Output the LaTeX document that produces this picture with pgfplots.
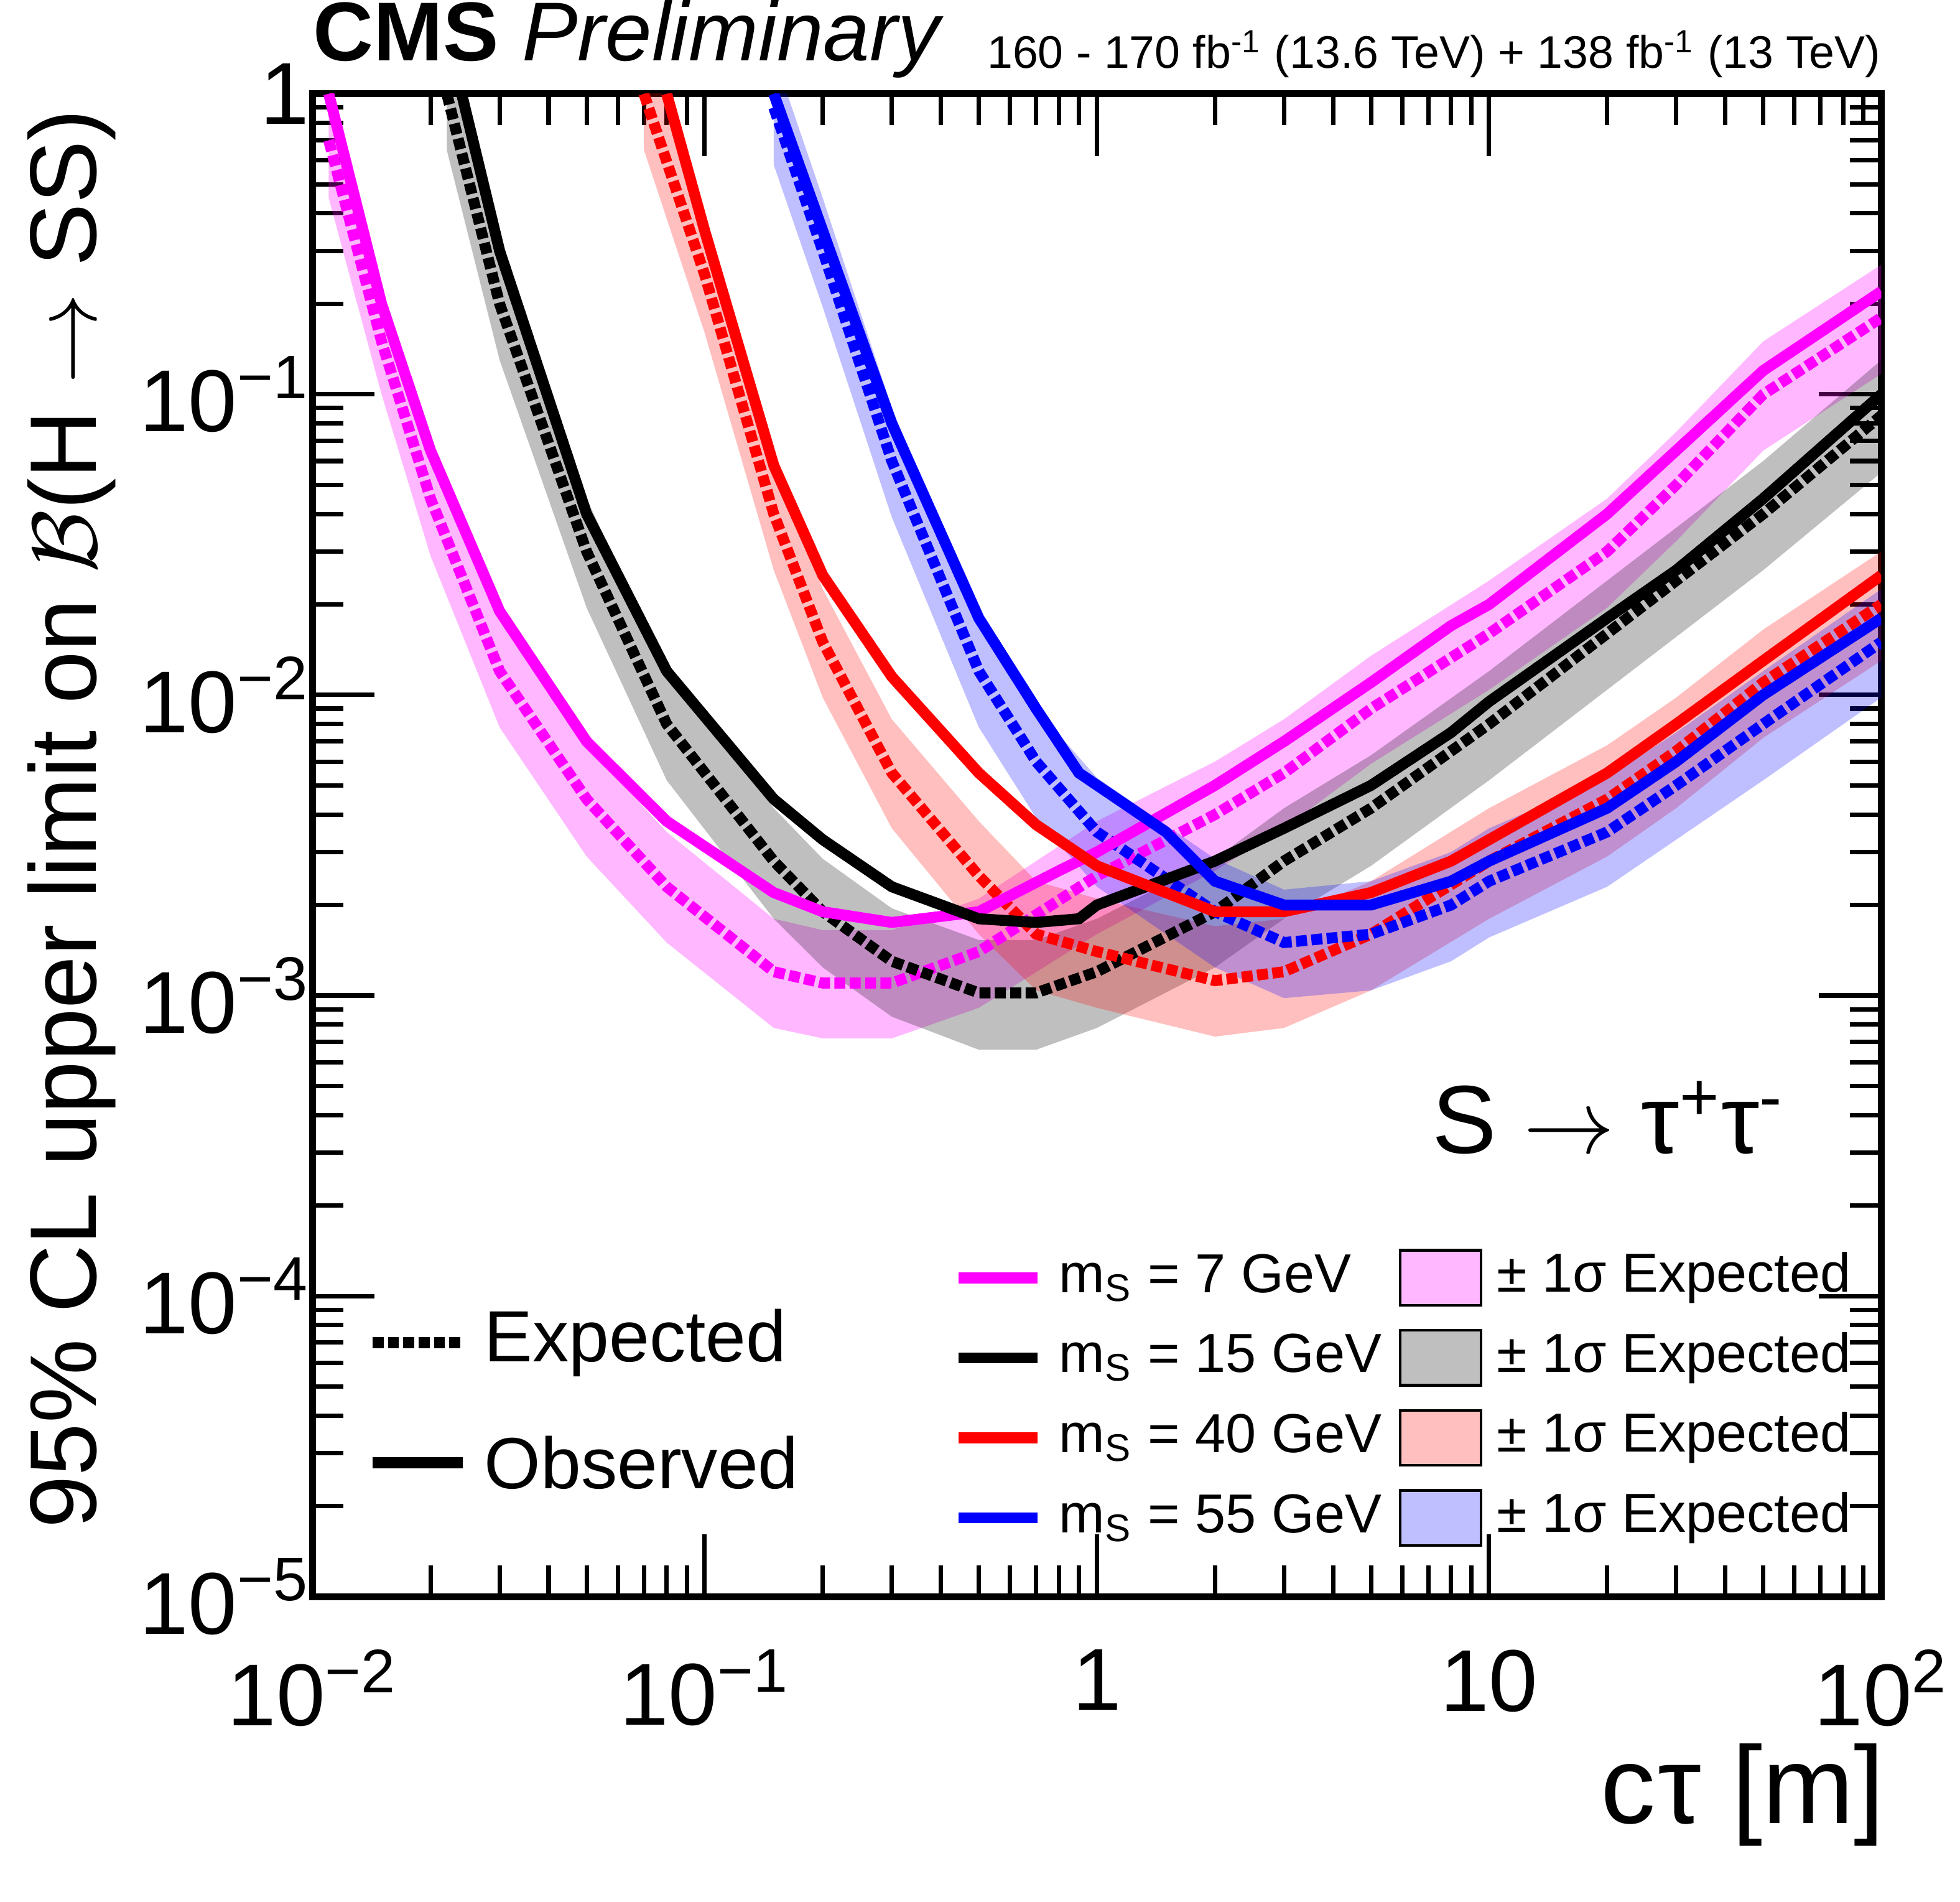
\documentclass[border=0pt]{standalone}
\usepackage{pgfplots}
\pgfplotsset{compat=1.18}
\usepgfplotslibrary{fillbetween}
\usepackage{fontspec}
\setmainfont{Liberation Sans}
\definecolor{mag}{rgb}{1,0,1}
\definecolor{rd}{rgb}{1,0,0}
\definecolor{bl}{rgb}{0,0,1}
\newcommand{\sci}[1]{10\textsuperscript{#1}}
\begin{document}
\begin{tikzpicture}
\begin{axis}[scale only axis, width=12.55cm, height=12.02cm,
 xmode=log, ymode=log, xmin=0.01, xmax=100, ymin=1e-5, ymax=1,
 xtick={0.01,0.1,1,10,100}, xticklabels={\sci{−2},\sci{−1},1,10,\sci{2}},
 ytick={1e-5,1e-4,1e-3,1e-2,1e-1,1}, yticklabels={\sci{−5},\sci{−4},\sci{−3},\sci{−2},\sci{−1},1},
 tick label style={font=\fontsize{20}{20}\selectfont},
 xticklabel style={yshift=-0.3cm},
 yticklabel style={xshift=0.1cm},
 tick align=inside, ticks=both, xtick pos=both, ytick pos=both,
 major tick length=0.5cm, minor tick length=0.25cm,
 axis line style={line width=1.6pt}, tick style={line width=1pt, black},
 xlabel={\fontsize{25}{25}\selectfont c\kern0.5ptτ [m]},
 xlabel style={at={(rel axis cs:1,0)}, anchor=north east, yshift=-1.05cm, xshift=0.15cm},
 ylabel={\fontsize{21.5}{21.5}\selectfont 95\% CL upper limit on $\mathcal{B}$(H $\to$ SS)},
 ylabel style={at={(rel axis cs:0,1)}, anchor=south east, yshift=1.45cm},
 clip=true]
% magenta
\addplot[draw=none, name path=mlo, forget plot] coordinates {(0.011,0.45)(0.015,0.1)(0.02,0.029)(0.03,0.0078)(0.05,0.0029)(0.08,0.0015)(0.15,0.00078)(0.2,0.00072)(0.3,0.00072)(0.5,0.00091)(1,0.0016)(2,0.0026)(3,0.0036)(5,0.0059)(10,0.0104)(20,0.0195)(30,0.0325)(50,0.065)(100,0.117)};
\addplot[draw=none, name path=mhi, forget plot] coordinates {(0.011,1.05)(0.015,0.23)(0.02,0.068)(0.03,0.018)(0.05,0.0068)(0.08,0.0035)(0.15,0.0018)(0.2,0.00165)(0.3,0.00165)(0.5,0.0021)(1,0.0038)(2,0.006)(3,0.0083)(5,0.0135)(10,0.024)(20,0.045)(30,0.075)(50,0.15)(100,0.27)};
\addplot[mag, fill opacity=0.28, draw=none, forget plot] fill between[of=mlo and mhi];
% black
\addplot[draw=none, name path=klo, forget plot] coordinates {(0.022,0.65)(0.03,0.13)(0.05,0.0195)(0.08,0.0052)(0.15,0.0018)(0.2,0.00124)(0.3,0.00085)(0.5,0.00066)(0.7,0.00066)(1,0.00078)(2,0.00124)(3,0.0018)(5,0.0027)(10,0.0052)(20,0.0104)(30,0.0156)(50,0.026)(100,0.055)};
\addplot[draw=none, name path=khi, forget plot] coordinates {(0.022,1.5)(0.03,0.3)(0.05,0.045)(0.08,0.012)(0.15,0.0042)(0.2,0.00285)(0.3,0.00195)(0.5,0.00153)(0.7,0.00153)(1,0.0018)(2,0.00285)(3,0.0042)(5,0.0063)(10,0.012)(20,0.024)(30,0.036)(50,0.06)(100,0.13)};
\addplot[black, fill opacity=0.25, draw=none, forget plot] fill between[of=klo and khi];
% red
\addplot[draw=none, name path=rlo, forget plot] coordinates {(0.07,0.65)(0.1,0.16)(0.15,0.026)(0.2,0.0098)(0.3,0.0036)(0.5,0.0016)(0.7,0.00104)(1,0.00091)(2,0.00073)(3,0.00078)(5,0.00104)(10,0.0018)(20,0.0029)(30,0.0042)(50,0.0072)(100,0.013)};
\addplot[draw=none, name path=rhi, forget plot] coordinates {(0.07,1.5)(0.1,0.375)(0.15,0.06)(0.2,0.0225)(0.3,0.0083)(0.5,0.0038)(0.7,0.0024)(1,0.0021)(2,0.0017)(3,0.0018)(5,0.0024)(10,0.0042)(20,0.0068)(30,0.0098)(50,0.0165)(100,0.03)};
\addplot[rd, fill opacity=0.25, draw=none, forget plot] fill between[of=rlo and rhi];
% blue
\addplot[draw=none, name path=blo, forget plot] coordinates {(0.15,0.58)(0.2,0.195)(0.3,0.039)(0.5,0.0078)(0.7,0.0039)(1,0.0023)(2,0.00124)(3,0.00098)(5,0.00104)(8,0.0013)(10,0.00156)(20,0.0023)(30,0.0033)(50,0.0052)(100,0.0098)};
\addplot[draw=none, name path=bhi, forget plot] coordinates {(0.15,1.35)(0.2,0.45)(0.3,0.09)(0.5,0.018)(0.7,0.009)(1,0.0053)(2,0.00285)(3,0.00225)(5,0.0024)(8,0.003)(10,0.0036)(20,0.0053)(30,0.0075)(50,0.012)(100,0.0225)};
\addplot[bl, fill opacity=0.25, draw=none, forget plot] fill between[of=blo and bhi];
% expected
\addplot[mag, line width=2.5pt, densely dotted] coordinates {(0.011,0.7)(0.015,0.15)(0.02,0.045)(0.03,0.012)(0.05,0.0045)(0.08,0.0023)(0.15,0.0012)(0.2,0.0011)(0.3,0.0011)(0.5,0.0014)(1,0.0025)(2,0.004)(3,0.0055)(5,0.009)(10,0.016)(20,0.03)(30,0.05)(50,0.1)(100,0.18)};
\addplot[black, line width=2.5pt, densely dotted] coordinates {(0.022,1)(0.03,0.2)(0.05,0.03)(0.08,0.008)(0.15,0.0028)(0.2,0.0019)(0.3,0.0013)(0.5,0.00102)(0.7,0.00102)(1,0.0012)(2,0.0019)(3,0.0028)(5,0.0042)(10,0.008)(20,0.016)(30,0.024)(50,0.04)(100,0.085)};
\addplot[rd, line width=2.5pt, densely dotted] coordinates {(0.07,1)(0.1,0.25)(0.15,0.04)(0.2,0.015)(0.3,0.0055)(0.5,0.0025)(0.7,0.0016)(1,0.0014)(2,0.00112)(3,0.0012)(5,0.0016)(10,0.0028)(20,0.0045)(30,0.0065)(50,0.011)(100,0.02)};
\addplot[bl, line width=2.5pt, densely dotted] coordinates {(0.15,0.9)(0.2,0.3)(0.3,0.06)(0.5,0.012)(0.7,0.006)(1,0.0035)(2,0.0019)(3,0.0015)(5,0.0016)(8,0.002)(10,0.0024)(20,0.0035)(30,0.005)(50,0.008)(100,0.015)};
% observed
\addplot[mag, line width=2.5pt] coordinates {(0.011,1)(0.015,0.2)(0.02,0.065)(0.03,0.019)(0.05,0.007)(0.08,0.0038)(0.15,0.0022)(0.2,0.0019)(0.3,0.00175)(0.5,0.0019)(0.8,0.0026)(1,0.003)(2,0.005)(3,0.007)(5,0.011)(8,0.017)(10,0.02)(20,0.04)(30,0.065)(50,0.12)(100,0.22)};
\addplot[black, line width=2.5pt] coordinates {(0.024,1)(0.03,0.3)(0.05,0.04)(0.08,0.012)(0.15,0.0045)(0.2,0.0033)(0.3,0.0023)(0.5,0.0018)(0.7,0.00175)(0.9,0.0018)(1,0.002)(2,0.0028)(3,0.0036)(5,0.005)(8,0.0075)(10,0.0095)(20,0.018)(30,0.026)(50,0.045)(100,0.1)};
\addplot[rd, line width=2.5pt] coordinates {(0.08,1)(0.1,0.35)(0.15,0.058)(0.2,0.025)(0.3,0.0115)(0.5,0.0055)(0.7,0.0037)(1,0.0027)(2,0.0019)(3,0.0019)(5,0.0022)(8,0.0028)(10,0.0033)(20,0.0055)(30,0.008)(50,0.013)(100,0.025)};
\addplot[bl, line width=2.5pt] coordinates {(0.15,1)(0.2,0.35)(0.3,0.08)(0.5,0.018)(0.7,0.009)(0.9,0.0055)(1.5,0.0035)(2,0.0024)(3,0.002)(5,0.002)(8,0.0024)(10,0.0028)(20,0.0042)(30,0.006)(50,0.01)(100,0.018)};
\coordinate (sw) at (rel axis cs:0,0);
\coordinate (ne) at (rel axis cs:1,1);
\end{axis}
% header
\node[anchor=south west, inner sep=0pt] at ([yshift=0.12cm]sw |- ne) {\fontsize{19}{19}\selectfont\textbf{CMS} \textit{Preliminary}};
\node[anchor=south east, inner sep=0pt] at ([yshift=0.12cm]ne) {\fontsize{10.4}{10.4}\selectfont 160 - 170 fb\textsuperscript{-1} (13.6 TeV) + 138 fb\textsuperscript{-1} (13 TeV)};
\begin{scope}[shift={(sw)}]
\node[anchor=west, inner sep=0pt] at (8.95,3.83) {\fontsize{22}{22}\selectfont S $\to$ τ\textsuperscript{+}τ\textsuperscript{-}};
\draw[black, line width=2.5pt, densely dotted] (0.48,2.03) -- (1.2,2.03);
\node[anchor=west] at (1.25,2.03) {\fontsize{16.5}{16.5}\selectfont Expected};
\draw[black, line width=2.5pt] (0.48,1.07) -- (1.2,1.07);
\node[anchor=west] at (1.25,1.07) {\fontsize{16.5}{16.5}\selectfont Observed};
\foreach \c/\m/\y/\o in {mag/7/2.55/0.28, black/15/1.91/0.25, rd/40/1.27/0.25, bl/55/0.63/0.25}{
  \draw[\c, line width=2.5pt] (5.17,\y) -- (5.8,\y);
  \node[anchor=west] at (5.85,\y) {\fontsize{12.5}{12.5}\selectfont m\textsubscript{S} = \m\ GeV};
  \fill[\c, fill opacity=\o] (8.7,\y-0.22) rectangle (9.35,\y+0.22);
  \draw[black, line width=0.6pt] (8.7,\y-0.22) rectangle (9.35,\y+0.22);
  \node[anchor=west] at (9.35,\y) {\fontsize{12.5}{12.5}\selectfont ± 1σ Expected};
}
\end{scope}
\pgfresetboundingbox
\path ([shift={(-2.5cm,-2.44cm)}]sw) rectangle ([shift={(0.63cm,0.75cm)}]ne);
\end{tikzpicture}
\end{document}
